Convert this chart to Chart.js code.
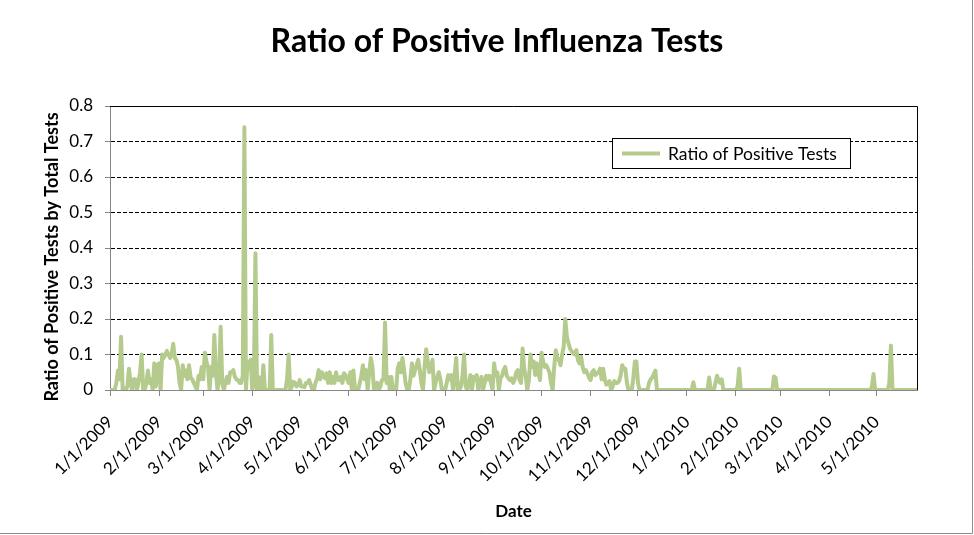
<!DOCTYPE html>
<html><head><meta charset="utf-8">
<script src="https://cdn.jsdelivr.net/npm/chart.js@4.4.0/dist/chart.umd.min.js"></script>
<style>html,body{margin:0;padding:0;background:#fff}#wrap{width:974px;height:535px;position:relative}</style>
</head><body><div id="wrap"><canvas id="c" width="974" height="535"></canvas></div>
<script>
const chartTitle = 'Ratio of Positive Influenza Tests';
const yAxisTitle = 'Ratio of Positive Tests by Total Tests';
const xAxisTitle = 'Date';
const seriesName = 'Ratio of Positive Tests';
const startDate = '1/1/2009';
const tickLabels = ['1/1/2009','2/1/2009','3/1/2009','4/1/2009','5/1/2009','6/1/2009','7/1/2009','8/1/2009','9/1/2009','10/1/2009','11/1/2009','12/1/2009','1/1/2010','2/1/2010','3/1/2010','4/1/2010','5/1/2010'];
const yTicks = [0,0.1,0.2,0.3,0.4,0.5,0.6,0.7,0.8];

// daily values, one array per month
const jan09 = [0,0,0,0,0.02,0.055,0.03,0.15,0,0.005,0,0.01,0.06,0.02,0,0.03,0.03,0,0.02,0.05,0.1,0,0,0.02,0.055,0.02,0.03,0,0.075,0.01,0.07];
const feb09 = [0.075,0,0.1,0.09,0.1,0.11,0.1,0.09,0.1,0.13,0.09,0.085,0.065,0.02,0,0.07,0.04,0.055,0.03,0.07,0.035,0.03,0.02,0.01,0,0.04,0.03,0.065];
const mar09 = [0.03,0.105,0.08,0.065,0,0.065,0.04,0.155,0.05,0,0.03,0.178,0.02,0,0.02,0.037,0.02,0.05,0.05,0.056,0.037,0.03,0.028,0.02,0.02,0.04,0.74,0,0.08,0.06,0.085];
const apr09 = [0,0.02,0.385,0,0.037,0,0,0.07,0,0,0,0,0.155,0,0,0,0,0,0,0,0,0,0.03,0.1,0,0.01,0.023,0.02,0.01,0.015];
const may09 = [0.028,0.01,0.01,0.008,0.02,0.02,0.028,0.015,0,0,0.02,0.033,0.056,0.03,0.05,0.04,0.033,0.047,0.02,0.05,0.02,0.037,0.02,0.05,0.03,0.028,0.037,0.02,0.047,0.042,0.03];
const jun09 = [0.02,0.05,0,0.055,0,0,0,0.02,0.04,0.07,0.03,0.056,0,0.05,0.09,0.065,0,0.01,0.02,0,0.01,0.028,0.03,0.19,0.02,0.037,0,0.037,0,0];
const jul09 = [0,0.06,0.075,0.05,0.09,0.056,0.02,0,0,0.03,0.075,0.04,0.056,0.07,0.085,0.056,0.02,0,0.065,0.115,0.08,0.05,0.06,0.085,0,0.02,0.037,0.05,0.03,0,0];
const aug09 = [0,0.02,0.042,0.03,0.042,0,0.04,0.09,0,0,0.01,0.04,0.1,0.01,0,0.02,0.042,0,0.037,0.03,0.042,0,0.02,0.037,0,0.02,0.04,0.03,0.04,0.02,0];
const sep09 = [0.075,0.04,0.05,0,0.033,0.04,0.056,0.065,0.04,0.033,0.028,0.033,0.02,0.03,0.05,0.056,0.03,0.02,0.117,0.06,0.037,0,0.028,0.1,0.065,0.08,0.042,0.075,0.05,0.028];
const oct09 = [0.105,0.08,0.065,0.07,0.06,0.05,0.02,0,0.065,0.112,0.09,0.085,0.07,0.1,0.122,0.2,0.15,0.132,0.117,0.11,0.103,0.1,0.112,0.085,0.075,0.094,0.065,0.05,0.056,0.047,0.035];
const nov09 = [0.028,0.05,0.056,0.042,0.047,0.05,0.06,0.03,0.06,0.03,0.015,0.02,0.025,0,0.01,0.025,0.02,0.02,0.025,0.04,0.07,0.06,0.06,0.02,0,0,0,0.03,0.08,0.08];
const dec09 = [0.02,0,0,0,0,0,0,0.02,0.03,0.035,0.045,0.055,0,0,0,0,0,0,0,0,0,0,0,0,0,0,0,0,0,0,0];
const jan10 = [0,0,0,0,0.022,0,0,0,0,0,0,0,0,0,0.035,0,0,0,0.02,0.04,0.025,0.02,0.03,0,0,0,0,0,0,0,0];
const feb10 = [0,0.01,0.06,0,0,0,0,0,0,0,0,0,0,0,0,0,0,0,0,0,0,0,0,0,0.038,0.035,0,0];
const mar10 = [0,0,0,0,0,0,0,0,0,0,0,0,0,0,0,0,0,0,0,0,0,0,0,0,0,0,0,0,0,0,0];
const apr10 = [0,0,0,0,0,0,0,0,0,0,0,0,0,0,0,0,0,0,0,0,0,0,0,0,0,0,0,0.01,0.045,0];
const may10 = [0,0,0,0,0,0,0,0,0.02,0.125,0,0,0,0,0,0,0,0,0,0,0,0,0,0,0,0];

const values = [].concat(jan09,feb09,mar09,apr09,may09,jun09,jul09,aug09,sep09,oct09,nov09,dec09,jan10,feb10,mar10,apr10,may10);

function dayIndex(label){
  const [m,d,y] = label.split('/').map(Number);
  const [m0,d0,y0] = startDate.split('/').map(Number);
  return Math.round((Date.UTC(y,m-1,d) - Date.UTC(y0,m0-1,d0)) / 86400000);
}
const tickDays = tickLabels.map(dayIndex);
const points = values.map((v,i) => ({x:i, y:v}));

const FONT = 'Lato, Carlito, Calibri, "Open Sans", sans-serif';
const AXIS_GRAY = '#868686';
const LINE_GREEN = '#B5CB8E';

const decor = {
  id: 'decor',
  afterDraw(chart){
    const {ctx, chartArea:a} = chart;
    ctx.save();
    // chart title
    ctx.fillStyle = '#000';
    ctx.font = 'bold 32px ' + FONT;
    ctx.textAlign = 'center'; ctx.textBaseline = 'alphabetic';
    ctx.fillText(chartTitle, 497, 52);
    // y axis title
    ctx.save();
    ctx.translate(52, 257);
    ctx.rotate(-Math.PI/2);
    ctx.font = 'bold 18px ' + FONT;
    ctx.textAlign = 'center'; ctx.textBaseline = 'middle';
    ctx.fillText(yAxisTitle, 0, 0);
    ctx.restore();
    // plot area border (top and right)
    ctx.strokeStyle = '#000'; ctx.lineWidth = 1;
    ctx.beginPath();
    ctx.moveTo(a.left, Math.round(a.top)+0.5);
    ctx.lineTo(Math.round(a.right)+0.5, Math.round(a.top)+0.5);
    ctx.lineTo(Math.round(a.right)+0.5, a.bottom);
    ctx.stroke();
    // legend
    const ds = chart.data.datasets[0];
    const lx = 612, ly = 138, lw = 238, lh = 30;
    ctx.fillStyle = '#fff';
    ctx.fillRect(lx, ly, lw, lh);
    ctx.strokeStyle = '#000';
    ctx.strokeRect(lx+0.5, ly+0.5, lw, lh);
    ctx.strokeStyle = ds.borderColor; ctx.lineWidth = ds.borderWidth; ctx.lineCap = 'butt';
    ctx.beginPath(); ctx.moveTo(lx+10, ly+lh/2+0.5); ctx.lineTo(lx+48, ly+lh/2+0.5); ctx.stroke();
    ctx.fillStyle = '#000'; ctx.font = '17.5px ' + FONT; ctx.textBaseline = 'middle'; ctx.textAlign = 'left';
    ctx.fillText(ds.label, lx+56, ly+lh/2+1);
    // outer chart border (right, bottom)
    ctx.strokeStyle = '#8c8c8c'; ctx.lineWidth = 1;
    ctx.beginPath(); ctx.moveTo(972.5, 0); ctx.lineTo(972.5, 533.5); ctx.lineTo(0, 533.5); ctx.stroke();
    ctx.restore();
  }
};

new Chart(document.getElementById('c'), {
  type: 'line',
  data: { datasets: [{
    label: seriesName,
    data: points,
    borderColor: LINE_GREEN,
    borderWidth: 4,
    pointRadius: 0,
    tension: 0,
    borderJoinStyle: 'round',
    borderCapStyle: 'round',
    fill: false
  }]},
  options: {
    responsive: false,
    animation: false,
    devicePixelRatio: 1,
    layout: { padding: { left: 0, right: 57, top: 106, bottom: 0 } },
    plugins: {
      legend: { display: false },
      tooltip: { enabled: false },
      title: { display: false }
    },
    scales: {
      x: {
        type: 'linear', min: 0, max: values.length - 0.5,
        afterBuildTicks(s){ s.ticks = tickDays.map(v => ({value: v})); },
        afterFit(s){ s.height = 145; s.paddingLeft = 0; s.paddingRight = 0; },
        ticks: {
          autoSkip: false, minRotation: 45, maxRotation: 45, color: '#000', padding: 16,
          font: { family: FONT, size: 17 },
          callback(v){ const i = tickDays.indexOf(v); return i >= 0 ? tickLabels[i] : ''; }
        },
        grid: { drawOnChartArea: false, drawTicks: true, tickLength: 6, color: AXIS_GRAY, tickColor: AXIS_GRAY },
        border: { display: true, color: AXIS_GRAY, width: 1 },
        title: { display: true, text: xAxisTitle, color: '#000', font: { family: FONT, size: 17, weight: 'bold' }, padding: { top: 0, bottom: 13 } }
      },
      y: {
        min: 0, max: 0.8,
        afterBuildTicks(s){ s.ticks = yTicks.map(v => ({value: v})); },
        afterFit(s){ s.width = 110; s.paddingTop = 0; s.paddingBottom = 0; },
        ticks: { color: '#000', padding: 12, font: { family: FONT, size: 17 }, callback(v){ return String(Number(v.toFixed(1))); } },
        grid: {
          color: (c) => (c.tick && (c.tick.value === 0 || c.tick.value === 0.8)) ? 'rgba(0,0,0,0)' : '#000',
          tickColor: AXIS_GRAY, tickLength: 5, lineWidth: 1
        },
        border: { display: true, color: AXIS_GRAY, width: 1, dash: [4,2] },
        title: { display: false, text: yAxisTitle }
      }
    }
  },
  plugins: [decor]
});
</script>
</body></html>
